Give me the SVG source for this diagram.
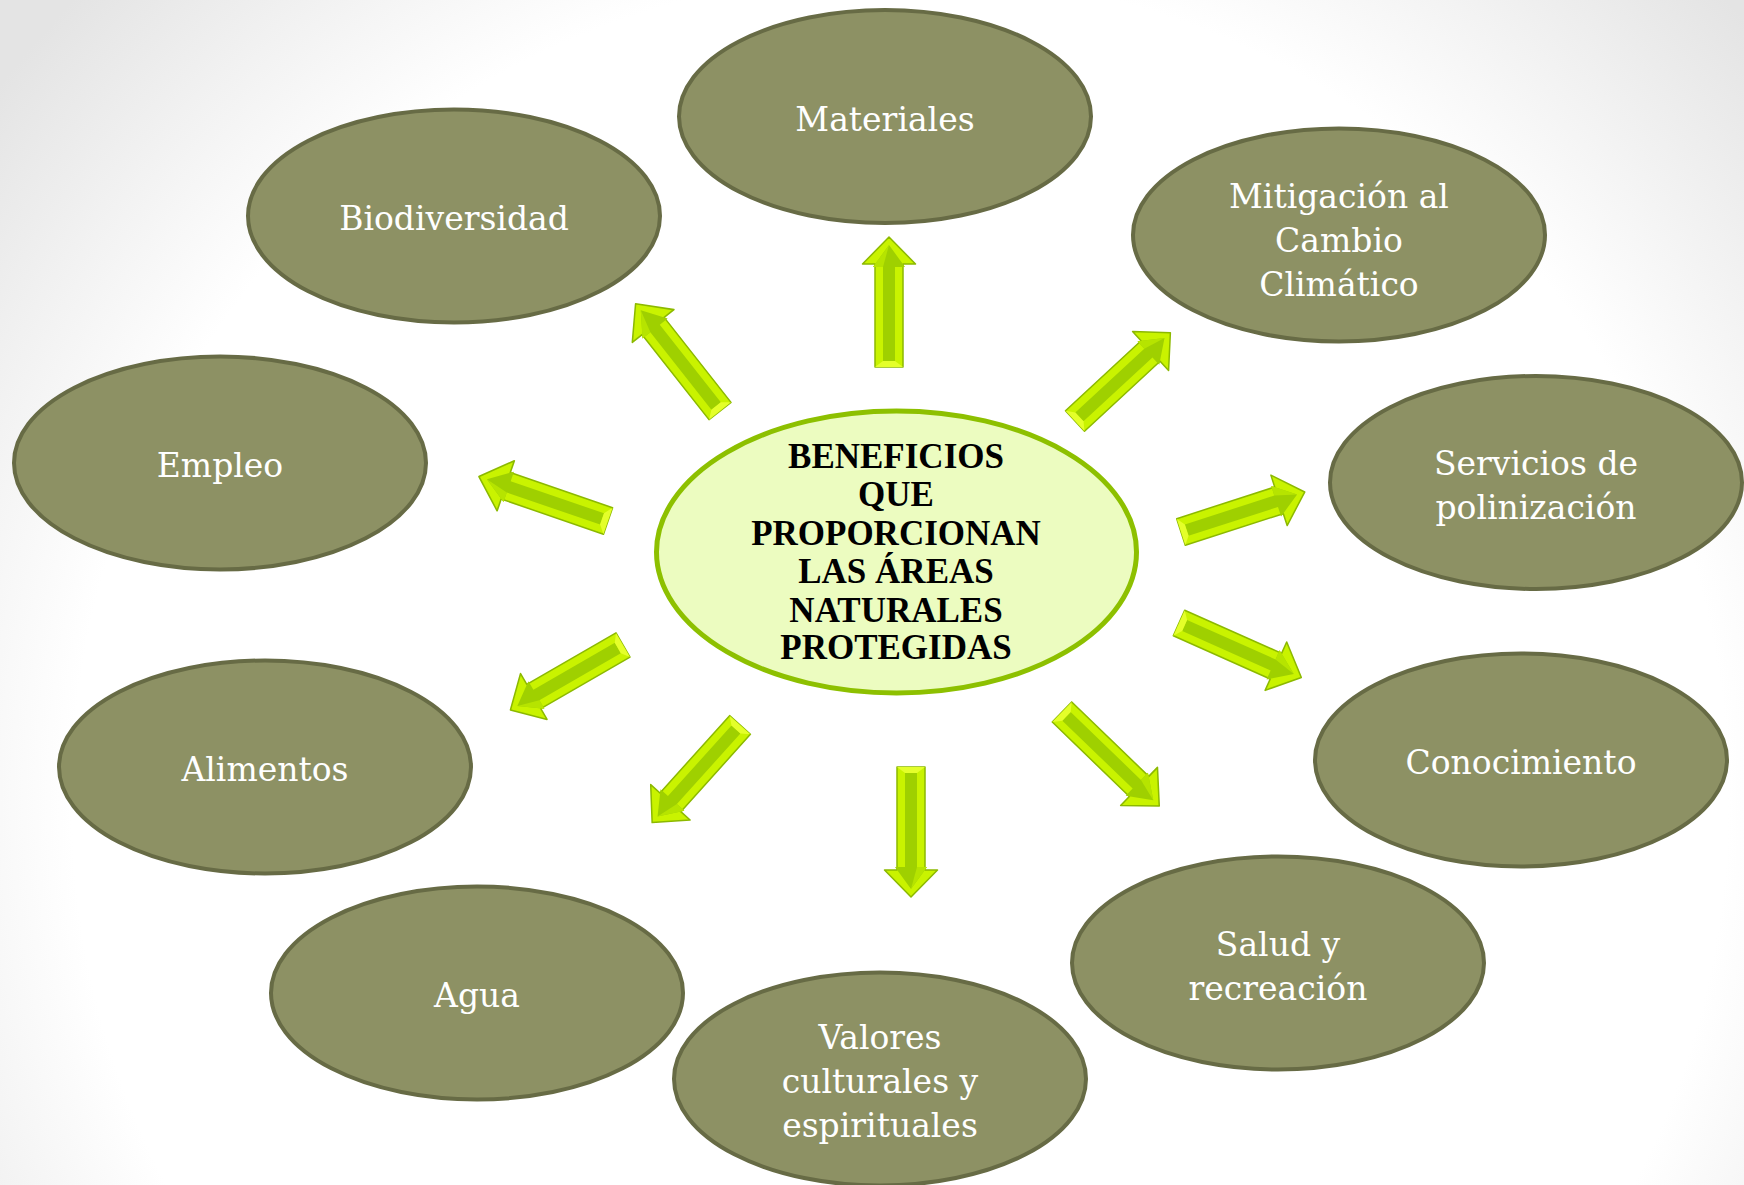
<svg xmlns="http://www.w3.org/2000/svg" width="1744" height="1185" viewBox="0 0 1744 1185">
  <defs>
    <radialGradient id="bg" gradientUnits="userSpaceOnUse" cx="900" cy="800" r="1150">
      <stop offset="0.72" stop-color="#ffffff"/>
      <stop offset="1" stop-color="#e4e4e4"/>
    </radialGradient>
    <g id="arrow">
      <polygon points="0,-14 103,-14 103,-26.5 130,0 103,26.5 103,14 0,14" fill="#c9f300" stroke="#8cb900" stroke-width="1.5" stroke-linejoin="round"/>
      <polygon points="6,-6 100,-6 100,-16 122,0 100,16 100,6 6,6" fill="#9fd000"/>
      <polygon points="100,-16 122,0 100,-6" fill="#b6e400"/>
      <polygon points="0,14 6,6 6,-6 0,-14" fill="#e4ff2a"/>
    </g>
    <style>
      .node { fill: #8d9164; stroke: #676b45; stroke-width: 4; }
      .lbl { font-family: "DejaVu Serif", "Liberation Serif", serif; font-size: 33px; fill: #ffffff; text-anchor: middle; }
      .hub { fill: #ecfcc0; stroke: #8dc000; stroke-width: 5; }
      .hubtxt { font-family: "Liberation Serif", "Times New Roman", serif; font-weight: bold; font-size: 35px; fill: #000000; text-anchor: middle; }
    </style>
  </defs>

  <rect x="0" y="0" width="1744" height="1185" fill="url(#bg)"/>

  <g id="connectors">
    <use href="#arrow" transform="translate(889,367) rotate(-90)"/>
    <use href="#arrow" transform="translate(720,411) rotate(-128.2) scale(1.05,1)"/>
    <use href="#arrow" transform="translate(1075,421) rotate(-42.8)"/>
    <use href="#arrow" transform="translate(1181,532) rotate(-17.9)"/>
    <use href="#arrow" transform="translate(1179,623) rotate(24) scale(1.03,1)"/>
    <use href="#arrow" transform="translate(1062,712) rotate(44) scale(1.04,1)"/>
    <use href="#arrow" transform="translate(911,767) rotate(90)"/>
    <use href="#arrow" transform="translate(740,725) rotate(132) scale(1.01,1)"/>
    <use href="#arrow" transform="translate(623,645) rotate(150)"/>
    <use href="#arrow" transform="translate(608,521) rotate(-161) scale(1.05,1)"/>
  </g>

  <g id="center">
    <ellipse class="hub" cx="896.5" cy="552" rx="240" ry="141"/>
    <text class="hubtxt" x="896" y="468">BENEFICIOS</text>
    <text class="hubtxt" x="896" y="506">QUE</text>
    <text class="hubtxt" x="896" y="545">PROPORCIONAN</text>
    <text class="hubtxt" x="896" y="583">LAS ÁREAS</text>
    <text class="hubtxt" x="896" y="622">NATURALES</text>
    <text class="hubtxt" x="896" y="659">PROTEGIDAS</text>
  </g>

  <g id="materiales">
    <ellipse class="node" cx="885" cy="116.5" rx="206" ry="106.5"/>
    <text class="lbl" x="885" y="131">Materiales</text>
  </g>
  <g id="biodiversidad">
    <ellipse class="node" cx="454" cy="216" rx="206" ry="106.5"/>
    <text class="lbl" x="454" y="230">Biodiversidad</text>
  </g>
  <g id="mitigacion">
    <ellipse class="node" cx="1339" cy="235" rx="206" ry="106.5"/>
    <text class="lbl" x="1339" y="208">Mitigación al</text>
    <text class="lbl" x="1339" y="252">Cambio</text>
    <text class="lbl" x="1339" y="296">Climático</text>
  </g>
  <g id="empleo">
    <ellipse class="node" cx="220" cy="463" rx="206" ry="106.5"/>
    <text class="lbl" x="220" y="477">Empleo</text>
  </g>
  <g id="servicios">
    <ellipse class="node" cx="1536" cy="482.5" rx="206" ry="106.5"/>
    <text class="lbl" x="1536" y="475">Servicios de</text>
    <text class="lbl" x="1536" y="519">polinización</text>
  </g>
  <g id="alimentos">
    <ellipse class="node" cx="265" cy="767" rx="206" ry="106.5"/>
    <text class="lbl" x="265" y="781">Alimentos</text>
  </g>
  <g id="conocimiento">
    <ellipse class="node" cx="1521" cy="760" rx="206" ry="106.5"/>
    <text class="lbl" x="1521" y="774">Conocimiento</text>
  </g>
  <g id="agua">
    <ellipse class="node" cx="477" cy="993" rx="206" ry="106.5"/>
    <text class="lbl" x="477" y="1007">Agua</text>
  </g>
  <g id="salud">
    <ellipse class="node" cx="1278" cy="963" rx="206" ry="106.5"/>
    <text class="lbl" x="1278" y="956">Salud y</text>
    <text class="lbl" x="1278" y="1000">recreación</text>
  </g>
  <g id="valores">
    <ellipse class="node" cx="880" cy="1079" rx="206" ry="106.5"/>
    <text class="lbl" x="880" y="1049">Valores</text>
    <text class="lbl" x="880" y="1093">culturales y</text>
    <text class="lbl" x="880" y="1137">espirituales</text>
  </g>
</svg>
